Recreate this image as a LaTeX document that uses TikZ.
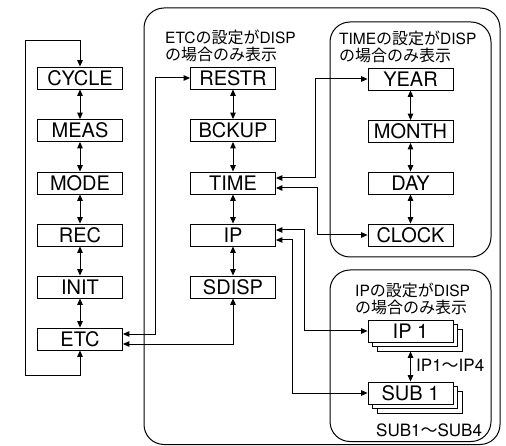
\documentclass[tikz,border=0pt]{standalone}
\usepackage{fontspec}
\setmainfont{TeX Gyre Heros}
\newfontfamily\jp{Noto Sans CJK JP}
\newcommand{\jtxt}[1]{{\jp\fontsize{16}{17}\selectfont #1}}
\usetikzlibrary{arrows.meta,shadows}
\begin{document}
\begin{tikzpicture}[x=1pt,y=-1pt,
  box/.style={draw, line width=0.8pt, fill=white, minimum width=85pt, minimum height=22pt, inner sep=0pt, font=\fontsize{20}{20}\selectfont},
  stackbox/.style={box, double copy shadow={shadow xshift=4.5pt, shadow yshift=-4.5pt}},
  arr/.style={line width=1pt, {Triangle[length=6.5pt,width=5.5pt]}-{Triangle[length=6.5pt,width=5.5pt]}},
  frame/.style={draw, line width=1pt, rounded corners=20pt},
  title/.style={anchor=north west, align=left, inner sep=0pt, font=\fontsize{15.5}{17}\selectfont},
  lbl/.style={anchor=west, inner sep=0pt, font=\fontsize{17}{17}\selectfont}]
\useasboundingbox (0,0) rectangle (506,446);

% frames
\draw[frame] (144,8) rectangle (500,444.5);
\draw[frame] (330,22) rectangle (491,257);
\draw[frame] (330,270) rectangle (491,441.5);

% titles
\node[title] (t1) at (165,30) {ETC\jtxt{の設定が}DISP\\\jtxt{の場合のみ表示}};
\node[title] (t2) at (339,31) {TIME\jtxt{の設定が}DISP\\\jtxt{の場合のみ表示}};
\node[title] (t3) at (355,283) {IP\jtxt{の設定が}DISP\\\jtxt{の場合のみ表示}};

% left column
\node[box] (cycle) at (80,78) {CYCLE};
\node[box] (meas)  at (80,130.5) {MEAS};
\node[box] (mode)  at (80,183) {MODE};
\node[box] (rec)   at (80,235) {REC};
\node[box] (init)  at (80,287) {INIT};
\node[box] (etc)   at (80,339) {ETC};

% middle column
\node[box] (restr) at (233,78) {RESTR};
\node[box] (bckup) at (233,130.5) {BCKUP};
\node[box] (time)  at (233,183) {TIME};
\node[box] (ip)    at (233,235) {IP};
\node[box] (sdisp) at (233,287) {SDISP};

% right column
\node[box] (year)  at (410.5,79) {YEAR};
\node[box] (month) at (410.5,131.5) {MONTH};
\node[box] (day)   at (410.5,183) {DAY};
\node[box] (clock) at (410.5,235) {CLOCK};

\node[stackbox] (ip1)  at (410.5,331) {IP 1};
\node[stackbox] (sub1) at (410.5,393) {SUB 1};

\node[lbl] (l1) at (416,365) {IP1{\jp ～}IP4};
\node[lbl] (l2) at (376,430) {SUB1{\jp ～}SUB4};

% vertical links
\draw[arr] (cycle) -- (meas);
\draw[arr] (meas) -- (mode);
\draw[arr] (mode) -- (rec);
\draw[arr] (rec) -- (init);
\draw[arr] (init) -- (etc);
\draw[arr] (restr) -- (bckup);
\draw[arr] (bckup) -- (time);
\draw[arr] (time) -- (ip);
\draw[arr] (ip) -- (sdisp);
\draw[arr] (year) -- (month);
\draw[arr] (month) -- (day);
\draw[arr] (day) -- (clock);
\draw[arr] ([yshift=-9pt]ip1.south) -- (sub1.north);

% loop
\draw[arr] (etc.south) -- ([yshift=-25pt]etc.south) -| ([xshift=-55pt,yshift=26pt]cycle.north) -| (cycle.north);

% ETC to sub-items
\draw[arr] ([yshift=5pt]etc.east) -| ([xshift=-34.5pt]restr.west) -- (restr.west);
\draw[arr] ([yshift=-5pt]etc.east) -| (sdisp.south);

% TIME
\draw[arr] ([yshift=5pt]time.east) -| ([xshift=-52pt]year.west) -- (year.west);
\draw[arr] ([yshift=-5pt]time.east) -| ([xshift=-50pt]clock.west) -- (clock.west);

% IP
\draw[arr] ([yshift=5pt]ip.east) -| ([xshift=-63pt]ip1.west) -- (ip1.west);
\draw[arr] ([yshift=-5pt]ip.east) -| ([xshift=-75pt]sub1.west) -- (sub1.west);
\end{tikzpicture}
\end{document}
